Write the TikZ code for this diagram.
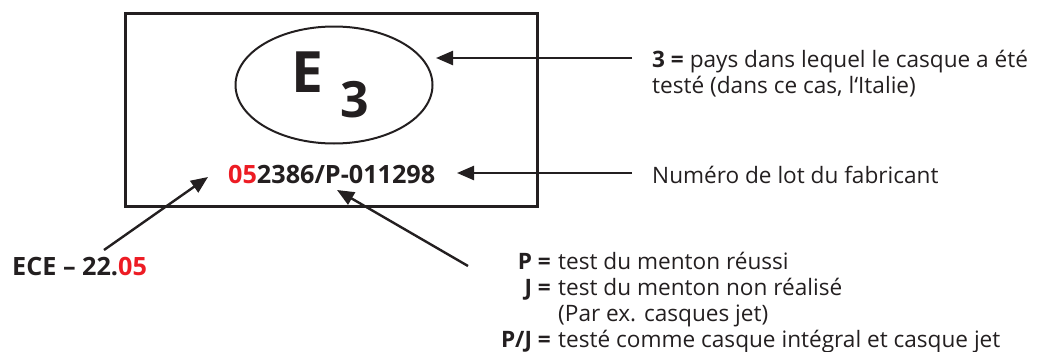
\documentclass[tikz,border=0pt]{standalone}
\usepackage{fontspec}
\setmainfont{Open Sans}
\usetikzlibrary{arrows.meta,shapes.geometric}
\definecolor{ink}{HTML}{231F20}
\definecolor{mred}{HTML}{ED1C24}
\begin{document}
\begin{tikzpicture}[x=1pt,y=-1pt,
  txt/.style={inner sep=0pt, text=ink, font=\fontsize{22.6}{26}\selectfont},
  lbl/.style={inner sep=0pt, text=ink, font=\fontsize{22.6}{26}\selectfont\bfseries},
  bold/.style={inner sep=0pt, text=ink, font=\fontsize{25.2}{28}\selectfont\bfseries},
  big/.style={inner sep=0pt, text=ink, font=\fontsize{#1}{#1}\selectfont\bfseries},
  arr/.style={draw=ink, line width=2.4pt, -{Triangle[length=17pt,width=14pt]}},
]
\useasboundingbox (0,0) rectangle (1040,351);
% marking
\node[draw=ink, line width=2.6pt, minimum width=412pt, minimum height=193pt, inner sep=0pt] (box) at (331.5,110) {};
\node[draw=ink, line width=2pt, ellipse, minimum width=197pt, minimum height=117pt, inner sep=0pt] (ell) at (334,85) {};
\node[big=57] (E) at (307.5,72) {E};
\node[big=50] (three) at (354.5,100) {3};
\node[bold, anchor=base west] (lot) at (228,183) {\textcolor{mred}{05}2386/P-011298};
% right texts
\node[txt, anchor=base west] (t1a) at (652,67) {\textbf{3 =} pays dans lequel le casque a été};
\node[txt, anchor=base west] (t1b) at (652,93) {testé (dans ce cas, l‘Italie)};
\node[txt, anchor=base west] (t2) at (652,183) {Numéro de lot du fabricant};
% left text
\node[bold, anchor=base west] (ece) at (12,275) {ECE – 22.\textcolor{mred}{05}};
% legend
\node[lbl, anchor=base east] (lP) at (551,269) {P =};
\node[txt, anchor=base west] (dP) at (558,269) {test du menton réussi};
\node[lbl, anchor=base east] (lJ) at (551,295) {J =};
\node[txt, anchor=base west] (dJ) at (558,295) {test du menton non réalisé};
\node[txt, anchor=base west] (dJb) at (558,321) {(Par ex. casques jet)};
\node[lbl, anchor=base east] (lPJ) at (551,347) {P/J =};
\node[txt, anchor=base west] (dPJ) at (558,347) {testé comme casque intégral et casque jet};
% arrow ends
\coordinate (a1s) at (632,58);
\coordinate (a1e) at (436,58);
\coordinate (a2s) at (632,173);
\coordinate (a2e) at (457,173);
\coordinate (a3s) at (104,250);
\coordinate (a3e) at (208,177);
\coordinate (a4s) at (468,266);
\coordinate (a4e) at (337,190);
\draw[arr] (a1s) -- (a1e);
\draw[arr] (a2s) -- (a2e);
\draw[arr] (a3s) -- (a3e);
\draw[arr] (a4s) -- (a4e);
\end{tikzpicture}
\end{document}
